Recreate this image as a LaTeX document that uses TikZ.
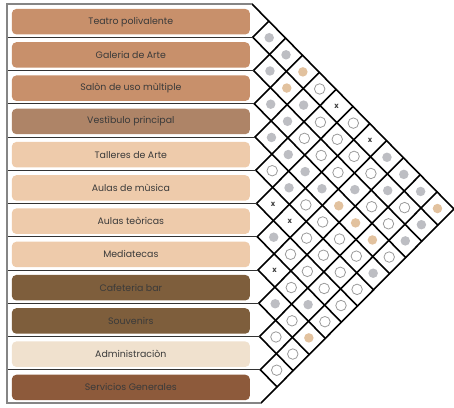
\documentclass[tikz,border=0pt]{standalone}
\usepackage{fontspec}
\setmainfont{Poppins}
\definecolor{cA}{HTML}{C8906B}
\definecolor{cB}{HTML}{AE8467}
\definecolor{cC}{HTML}{EECBAB}
\definecolor{cD}{HTML}{7E5E3C}
\definecolor{cE}{HTML}{F0E1CE}
\definecolor{cF}{HTML}{8D5A3B}
\definecolor{txt}{HTML}{3A3A3A}
\definecolor{dotgray}{HTML}{BDBEC3}
\definecolor{dottan}{HTML}{E2C29F}
\definecolor{ringgray}{HTML}{9A9A9A}
\definecolor{framegray}{HTML}{858585}
\begin{document}
\begin{tikzpicture}[x=1pt,y=-1pt,
  lab/.style={rounded corners=4.5pt, minimum width=238pt, minimum height=25.5pt, inner sep=0pt, font=\fontsize{9.4}{11}\selectfont, text=txt},
  frame/.style={line width=1.4pt, draw=framegray},
  sep/.style={line width=0.9pt, draw=black!80},
  grid/.style={line width=1.6pt, draw=black, line cap=round, line join=round},
  gdot/.style={circle, fill=dotgray, minimum size=9.5pt, inner sep=0pt},
  tdot/.style={circle, fill=dottan, minimum size=9.5pt, inner sep=0pt},
  edot/.style={circle, draw=ringgray, line width=0.8pt, minimum size=10.5pt, inner sep=0pt},
  xmark/.style={inner sep=0pt, font=\fontsize{7.5}{7.5}\selectfont\bfseries, text=black!75},
]
\useasboundingbox (0,0) rectangle (454,407);
\coordinate (L) at (7,0);
% row labels
\foreach \k/\t/\c in {0/Teatro polivalente/cA, 1/Galeria de Arte/cA, 2/Salòn de uso mùltiple/cA,
  3/Vestìbulo principal/cB, 4/Talleres de Arte/cC, 5/Aulas de mùsica/cC, 6/Aulas teòricas/cC,
  7/Mediatecas/cC, 8/Cafeteria bar/cD, 9/Souvenirs/cD, 10/Administraciòn/cE, 11/Servicios Generales/cF}
  \node[lab, fill=\c] (r\k) at (130.85, {21.7+33.25*\k}) {\t};
% matrix
\begin{scope}[shift={(252pt,-4pt)}, x={(16.45pt,-0.458pt)}, y={(0.75pt,-33.25pt)}]
  \foreach \k in {0,...,12} \coordinate (m\k) at (0,\k);
  \foreach \k in {0,...,11} \draw[grid] (m\k) -- ({12-\k},{(12+\k)/2});
  \foreach \k in {1,...,12} \draw[grid] (m\k) -- (\k,{\k/2});
  \foreach \i/\j in {0/1,1/2,2/3,3/4,6/7,8/9,0/2,2/4,3/5,4/6,1/4,3/6,7/10,3/7,2/8,4/11,0/8,1/9,0/9,2/11,0/10,1/11}
    \node[gdot] (c\i-\j) at ({\j-\i},{(\i+\j+1)/2}) {};
  \foreach \i/\j in {1/3,0/3,8/11,3/8,3/9,3/10,0/11}
    \node[tdot] (c\i-\j) at ({\j-\i},{(\i+\j+1)/2}) {};
  \foreach \i/\j in {5/6,7/8,5/7,0/5,0/7}
    \node[xmark] (c\i-\j) at ({\j-\i},{(\i+\j+1)/2}) {x};
  \foreach \i/\j in {4/5,9/10,10/11,6/8,7/9,8/10,9/11,2/5,4/7,5/8,6/9,0/4,1/5,2/6,4/8,5/9,6/10,7/11,
    1/6,2/7,4/9,5/10,6/11,0/6,1/7,4/10,5/11,1/8,2/9,2/10,3/11,1/10}
    \node[edot] (c\i-\j) at ({\j-\i},{(\i+\j+1)/2}) {};
\end{scope}
% frame and separators
\foreach \k in {1,...,11} \draw[sep] (m\k -| L) -- (m\k);
\draw[frame] (m0) -- (m0 -| L) -- (m12 -| L) -- (m12);
\end{tikzpicture}
\end{document}
